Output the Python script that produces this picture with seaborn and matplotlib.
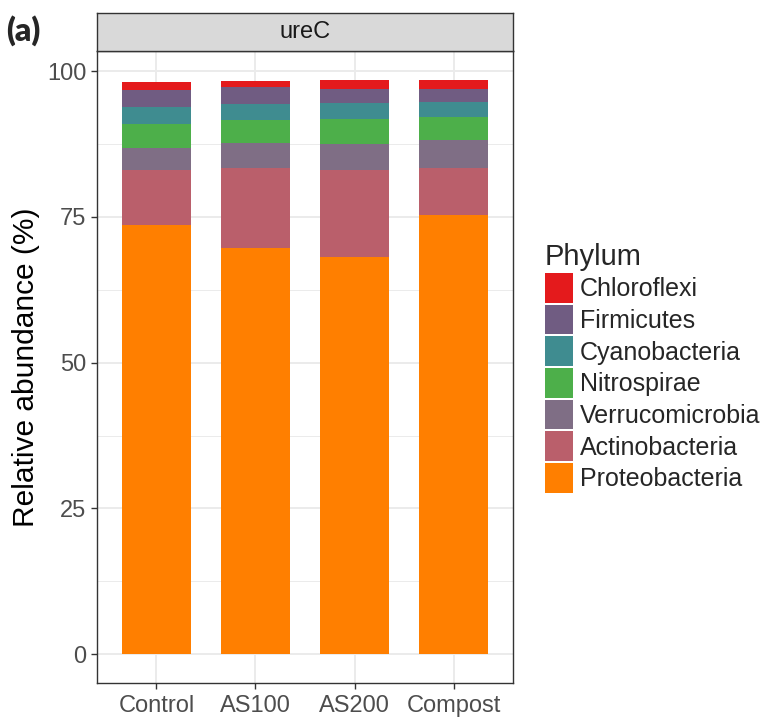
import numpy as np
import pandas as pd
import matplotlib
matplotlib.use("Agg")
import matplotlib.pyplot as plt
from matplotlib.patches import Patch
from matplotlib.ticker import MultipleLocator
import seaborn as sns

# Relative abundance (%) of ureC-carrying phyla per treatment
treatments = ["Control", "AS100", "AS200", "Compost"]
phyla = ["Proteobacteria", "Actinobacteria", "Verrucomicrobia", "Nitrospirae",
         "Cyanobacteria", "Firmicutes", "Chloroflexi"]  # stacked bottom -> top
proteobacteria = [73.6, 69.6, 68.1, 75.3]
actinobacteria = [9.5, 13.7, 15.0, 8.1]
verrucomicrobia = [3.65, 4.3, 4.35, 4.7]
nitrospirae = [4.1, 4.0, 4.25, 4.0]
cyanobacteria = [2.95, 2.7, 2.9, 2.55]
firmicutes = [2.95, 2.9, 2.25, 2.25]
chloroflexi = [1.45, 1.05, 1.65, 1.55]

colors = {
    "Chloroflexi": "#E41A1C",
    "Firmicutes": "#705C82",
    "Cyanobacteria": "#3F8C90",
    "Nitrospirae": "#4DAF4A",
    "Verrucomicrobia": "#7F6E85",
    "Actinobacteria": "#BA5F6B",
    "Proteobacteria": "#FF7F00",
}

values = [proteobacteria, actinobacteria, verrucomicrobia, nitrospirae,
          cyanobacteria, firmicutes, chloroflexi]
df = pd.DataFrame({p: v for p, v in zip(phyla, values)}, index=treatments)
cum = df.cumsum(axis=1)

sns.set_theme(style="white")
plt.rcParams["font.family"] = ["Liberation Sans", "DejaVu Sans"]

fig = plt.figure(figsize=(7.68, 7.19), dpi=100)
ax = fig.add_axes([0.1263, 0.0501, 0.5417, 0.8790])

# Overlay cumulative totals, top layer first, to form stacked bars
for p in phyla[::-1]:
    sns.barplot(x=list(cum.index), y=cum[p].values, order=treatments,
                color=colors[p], saturation=1, width=0.7, linewidth=0,
                ax=ax, zorder=3)

ax.set_xlim(-0.6, 3.6)
ax.set_ylim(-4.93, 103.45)
ax.yaxis.set_major_locator(MultipleLocator(25))
ax.yaxis.set_minor_locator(MultipleLocator(12.5))
ax.grid(True, which="major", color="#EBEBEB", linewidth=1.4, zorder=0)
ax.grid(True, which="minor", axis="y", color="#EBEBEB", linewidth=0.7, zorder=0)
ax.set_axisbelow(True)
for s in ax.spines.values():
    s.set_color("#333333")
    s.set_linewidth(1.0)
ax.tick_params(axis="both", which="major", length=4, width=1.0, color="#333333",
               labelsize=17, labelcolor="#4D4D4D", direction="out",
               bottom=True, left=True)
ax.tick_params(axis="x", which="major", pad=4.5)
ax.tick_params(axis="y", which="major", pad=3.5)
ax.tick_params(axis="y", which="minor", length=0)
ax.set_xlabel("")
ax.set_ylabel("Relative abundance (%)", fontsize=21.5, color="black", labelpad=5)

# facet strip
strip = fig.add_axes([0.1263, 0.929, 0.5417, 0.0529])
strip.set_facecolor("#D9D9D9")
strip.set_xticks([]); strip.set_yticks([])
for s in strip.spines.values():
    s.set_color("#333333")
    s.set_linewidth(1.0)
strip.text(0.5, 0.5, "ureC", ha="center", va="center", fontsize=17,
           color="#1A1A1A", transform=strip.transAxes)

fig.text(0.008, 0.958, "(a)", fontsize=23, fontweight="heavy",
         family=["Lato", "DejaVu Sans"], ha="left", va="center")

handles = [Patch(facecolor=colors[p], edgecolor="none", label=p) for p in phyla[::-1]]
leg = fig.legend(handles=handles, title="Phylum", loc="upper left",
                 bbox_to_anchor=(0.709, 0.662), frameon=False, fontsize=18,
                 title_fontsize=21, handlelength=1.15, handleheight=1.45,
                 handletextpad=0.25, labelspacing=0.08, borderaxespad=0,
                 borderpad=0)
leg._legend_box.align = "left"

fig.savefig("out.png", dpi=100)
